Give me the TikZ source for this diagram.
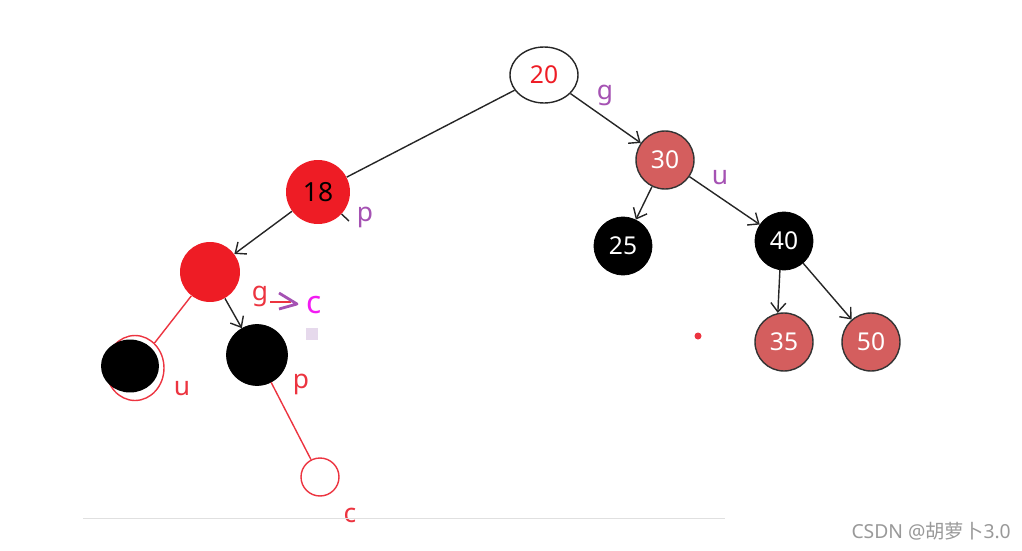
\documentclass[tikz,border=0pt]{standalone}
\usepackage{fontspec}
\setmainfont{Noto Sans}
\newfontfamily\cjkfont{Noto Sans CJK SC}
\usetikzlibrary{arrows.meta, shapes.geometric}
\definecolor{hotred}{HTML}{EE1C25}
\definecolor{nodered}{HTML}{D45E5E}
\definecolor{markred}{HTML}{EC3440}
\definecolor{markpurple}{HTML}{A552B3}
\definecolor{markmagenta}{HTML}{F21BF2}
\definecolor{lavender}{HTML}{E6D9EC}

\begin{document}
\begin{tikzpicture}[
  x=0.02cm, y=-0.02cm,
  rb/.style={circle, inner sep=0pt, minimum size=1.16cm, font=\fontsize{14}{16}\selectfont},
  blk/.style={rb, fill=black, draw=black, text=white},
  rd/.style={rb, fill=nodered, draw=black!80, thick, text=white},
  hot/.style={rb, fill=hotred, minimum size=1.2cm},
  arrow/.style={-{Straight Barb[length=1.8mm, width=3mm]}, thick, draw=black!85},
  redline/.style={thick, draw=markred},
  lbl/.style={font=\fontsize{15}{17}\selectfont, inner sep=0pt},
]
\useasboundingbox (0,0) rectangle (1022,551);

% upper tree
\node[ellipse, draw=black!85, thick, minimum width=1.36cm, minimum height=1.12cm,
      font=\fontsize{14}{16}\selectfont, text=hotred] (n20) at (544,75) {20};
\node[rd]  (n30) at (665,160) {30};
\node[hot, minimum size=1.28cm, font=\fontsize{15}{17}\selectfont] (n18) at (318,192) {18};
\node[blk] (n25) at (623,246) {25};
\node[blk] (n40) at (784,241) {40};
\node[rd]  (n35) at (784,342) {35};
\node[rd]  (n50) at (871,342) {50};

% rotated part
\node[hot] (nG) at (210,272) {};
\node[blk, minimum size=1.22cm] (nP) at (257,355) {};
\node[ellipse, draw=markred, thick, minimum width=1.16cm, minimum height=1.3cm] (nU) at (135,368) {};
\node[ellipse, fill=black, minimum width=1.16cm, minimum height=1.06cm] (blob) at (130,366) {};
\node[circle, draw=markred, thick, minimum size=0.76cm, inner sep=0pt] (nC) at (320,477) {};
\coordinate (stub) at (349,221);

\draw[thick, black!85] (n20) -- (n18);
\draw[thick, black!85] (n18) -- (stub);
\draw[arrow] (n20) -- (n30);
\draw[arrow] (n30) -- (n25);
\draw[arrow] (n30) -- (n40);
\draw[arrow] (n40.262) -- (n35.102);
\draw[arrow] (n40) -- (n50);
\draw[arrow] (n18) -- (nG);
\draw[arrow] (nG)  -- (nP);
\draw[redline] (nG) -- (nU);
\draw[redline] (nP) -- (nC);

% labels
\node[lbl, text=markpurple] (lg)  at (605,95)  {g};
\node[lbl, text=markpurple] (lu)  at (720,178) {u};
\node[lbl, text=markpurple] (lp)  at (365,217) {p};
\node[lbl, text=markred]    (lg2) at (260,296) {g};
\node[lbl, text=markmagenta, font=\fontsize{18}{20}\selectfont] (lc) at (314,305) {c};
\node[lbl, text=markred]    (lu2) at (182,389) {u};
\node[lbl, text=markred]    (lp2) at (301,384) {p};
\node[lbl, text=markred]    (lc2) at (350,515) {c};

% hand marks
\draw[markred, line width=1.5pt] (270,302) -- (291,302);
\draw[markpurple, line width=1.6pt, line join=round] (279,293) -- (297,304) -- (279,309);
\fill[lavender] (306,328) rectangle (318,340);
\fill[markred] (698,336) circle (3.5);
\draw[black!12] (83,518) -- (725,518);

\node[text=black!40, font=\fontsize{11}{13}\selectfont, anchor=east] (mark) at (1017,531)
  {CSDN @{\cjkfont 胡萝卜}3.0};
\end{tikzpicture}
\end{document}
